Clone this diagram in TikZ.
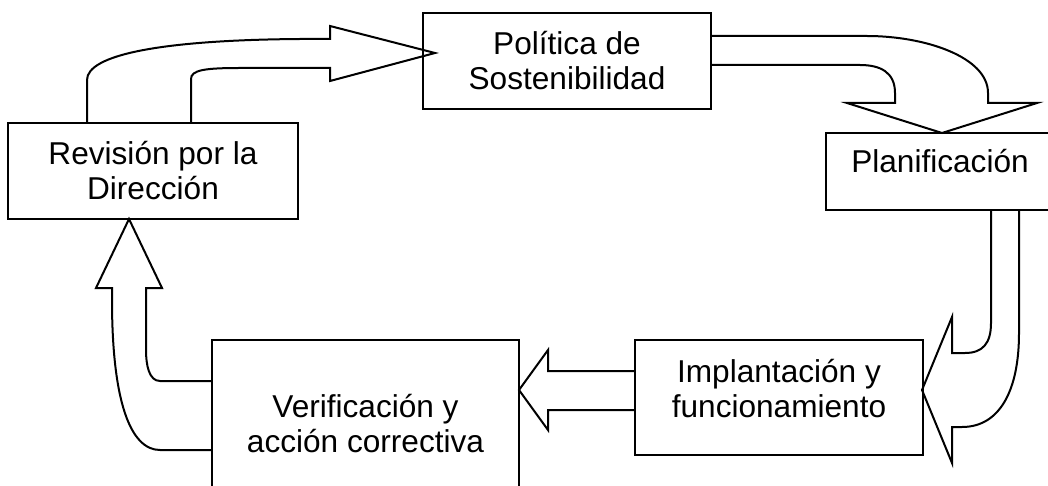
\documentclass[tikz,border=0pt]{standalone}
\usepackage{fontspec}
\setmainfont{Liberation Sans}
\tikzset{
    box/.style={draw, line width=1pt, inner sep=0pt, align=center, font=\fontsize{15.8}{17.5}\selectfont},
    blockarrow/.style={draw, line width=1pt, line join=miter},
}
\begin{document}
\begin{tikzpicture}[x=0.5pt, y=-0.5pt]

            \useasboundingbox (0,0) rectangle (1048,486);
            \clip (0,0) rectangle (1048,486);

            % Boxes
            \node[box, minimum width=144pt, minimum height=48pt] (politica) at (567,61) {Política de\\Sostenibilidad};
            \node[box, minimum width=145pt, minimum height=48pt] (revision) at (153,171) {Revisión por la\\Dirección};
            \node[box, minimum width=114pt, minimum height=38.5pt, text depth=11pt] (planif) at (940,171.5) {Planificación};
            \node[box, minimum width=144pt, minimum height=57.5pt, text depth=9.5pt] (implant) at (779,397.5) {Implantación y\\funcionamiento};
            \node[box, minimum width=153.5pt, minimum height=83.5pt] (verif) at (365.5,423.5) {Verificación y\\acción correctiva};

            % Revisión -> Política
            \draw[blockarrow] (87,123) -- (87,80) .. controls (87,55) and (160,40) .. (300,39) -- (330,39)
                -- (330,26) -- (435,53) -- (330,81) -- (330,68) -- (240,68)
                .. controls (205,68) and (191,70) .. (191,79) -- (191,123);

            % Política -> Planificación
            \draw[blockarrow] (711,36) -- (867,36) .. controls (925,36) and (988,57) .. (988,93) -- (988,103)
                -- (1037,103) -- (942,133) -- (847,103) -- (895,103) -- (895,93)
                .. controls (895,72) and (880,65) .. (860,65) -- (711,65);

            % Planificación -> Implantación
            \draw[blockarrow] (1019,210) -- (1019,333) .. controls (1019,390) and (1000,427) .. (962,427) -- (952,427)
                -- (952,463) -- (922,390) -- (952,317) -- (952,353) -- (965,353)
                .. controls (983,353) and (991,343) .. (991,323) -- (991,210);

            % Implantación -> Verificación
            \draw[blockarrow] (635,371) -- (548,371) -- (548,350) -- (519,390) -- (548,430) -- (548,410) -- (635,410);

            % Verificación -> Revisión
            \draw[blockarrow] (212,381) -- (160,381) .. controls (149,381) and (146,365) .. (146,350) -- (146,288)
                -- (162,288) -- (129,219) -- (96,288) -- (112,288) -- (112,300)
                .. controls (112,400) and (130,450) .. (160,450) -- (212,450);

\end{tikzpicture}
\end{document}
